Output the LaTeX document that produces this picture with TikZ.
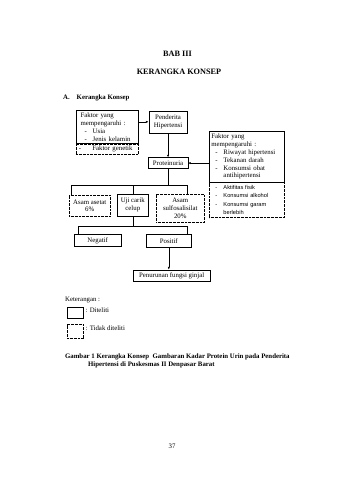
\documentclass[tikz,border=0pt]{standalone}
\usepackage{fontspec}
\setmainfont{Liberation Serif}
\newfontfamily\arialfont{Liberation Sans}
\usetikzlibrary{arrows.meta,positioning}
\newcommand{\boxfont}{\fontsize{12}{13.8}\selectfont}
\newcommand{\butir}[1]{\hspace*{7pt}\makebox[14.5pt][l]{-}#1}
\newcommand{\lanjut}[1]{\hspace*{21.5pt}#1}
\tikzset{
box/.style={draw,line width=1.1pt,inner sep=2pt,align=center,font=\boxfont},
dbox/.style={box,dash pattern=on 1.4pt off 1pt,line width=.9pt},
listbox/.style={box,anchor=north west,align=left},
teks/.style={inner sep=0pt,font=\boxfont},
arrow/.style={-{Latex[length=4.5pt,width=4pt]},line width=.8pt},
conn/.style={line width=.8pt}
}
\begin{document}
\begin{tikzpicture}[x=0.061947cm,y=-0.061947cm]
\useasboundingbox (0,0) rectangle (339,480);

% judul
\node[teks,font=\bfseries\fontsize{14.5}{16}\selectfont] (bab) at (177.5,54) {BAB III};
\node[teks,font=\bfseries\fontsize{14.5}{16}\selectfont] (judul) at (179,72) {KERANGKA KONSEP};
\node[teks,font=\bfseries\boxfont,anchor=base west] (subjudul) at (63,99) {\makebox[24pt][l]{A.}Kerangka Konsep};

% faktor
\node[listbox,inner xsep=8pt,text width=94pt,minimum height=58.7pt] (faktor1) at (75.7,110) {Faktor yang\\mempengaruhi :\\\butir{Usia}\\\butir{Jenis kelamin}};
\node[dbox,align=left,inner xsep=5pt,text width=100.3pt,minimum height=17.6pt,below=0pt of faktor1] (genetik) {\makebox[24pt][l]{-}Faktor genetik};
\node[box,anchor=north west,minimum width=67.9pt,minimum height=38.8pt] (penderita) at (148.5,110.5) {Penderita\\Hipertensi};
\node[box,minimum width=69.6pt,minimum height=19pt,below=42.7pt of penderita] (proteinuria) {Proteinuria};
\node[listbox,inner xsep=3.5pt,text width=125.7pt,minimum height=89.4pt] (faktor2) at (209,131) {Faktor yang\\mempengaruhi :\\\butir{Riwayat hipertensi}\\\butir{Tekanan darah}\\\butir{Konsumsi obat}\\\lanjut{antihipertensi}};
\node[dbox,align=left,inner xsep=3.5pt,text width=125.7pt,minimum height=61.7pt,font=\arialfont\fontsize{10}{15}\selectfont,below=0pt of faktor2] (gayahidup) {\butir{Aktifitas fisik}\\\butir{Konsumsi alkohol}\\\butir{Konsumsi garam}\\\lanjut{berlebih}};

% uji
\node[dbox,anchor=north west,minimum width=72.3pt,minimum height=37pt] (asetat) at (69,195) {Asam asetat\\6\%};
\node[box,anchor=north west,minimum width=54.6pt,minimum height=37.4pt] (ujicarik) at (117,194.3) {Uji carik\\celup};
\node[dbox,anchor=north west,minimum width=84.6pt,minimum height=49.4pt] (sulfo) at (156,194.3) {Asam\\sulfosalisilat\\20\%};
\node[box,anchor=north west,minimum width=82.3pt,minimum height=20.6pt] (negatif) at (74,234.3) {Negatif};
\node[box,anchor=north west,minimum width=79.3pt,minimum height=22.9pt] (positif) at (146,234.3) {Positif};
\node[box,anchor=north west,minimum width=136.2pt,minimum height=20.3pt] (penurunan) at (132.7,269.5) {Penurunan fungsi ginjal};

\coordinate (cab1) at (71.7,185.7);
\coordinate (cab2) at (187,185.7);
\coordinate (cab3) at (78,226);
\coordinate (cab4) at (187,226);

\draw[arrow] (faktor1.east |- penderita) -- (penderita.west);
\draw[arrow] (penderita.south) -- (penderita.south |- proteinuria.north);
\draw[arrow] (faktor2.west |- proteinuria) -- (proteinuria.east);
\draw[conn] (proteinuria.south) -- (proteinuria.south |- cab1);
\draw[conn] (asetat.north -| cab1) -- (cab1) -- (cab2) -- (sulfo.north -| cab2);
\draw[conn] (ujicarik.north) -- (ujicarik.north |- cab1);
\draw[conn] (ujicarik.south) -- (ujicarik.south |- cab3);
\draw[conn] (negatif.north -| cab3) -- (cab3) -- (cab4) -- (positif.north -| cab4);
\draw[arrow] (positif.south) -- (positif.south |- penurunan.north);

% keterangan
\node[teks,anchor=base west] (ket) at (65,301.3) {Keterangan :};
\node[box,anchor=north west,minimum width=29.3pt,minimum height=20.4pt] (ketsolid) at (66.7,306.7) {};
\node[teks,anchor=base west] (ketteliti) at (85.5,312.3) {: Diteliti};
\node[dbox,anchor=north west,minimum width=29.3pt,minimum height=23.6pt] (ketdash) at (66.7,324.3) {};
\node[teks,anchor=base west] (kettidak) at (85.5,330.3) {: Tidak diteliti};

\node[teks,font=\bfseries\boxfont,anchor=base west] (gambar1) at (65,358.3) {Gambar 1 Kerangka Konsep\ \ Gambaran Kadar Protein Urin pada Penderita};
\node[teks,font=\bfseries\boxfont,anchor=base west] (gambar2) at (88,366.3) {Hipertensi di Puskesmas II Denpasar Barat};

\node[teks] (hal) at (172,446) {37};
\end{tikzpicture}
\end{document}
